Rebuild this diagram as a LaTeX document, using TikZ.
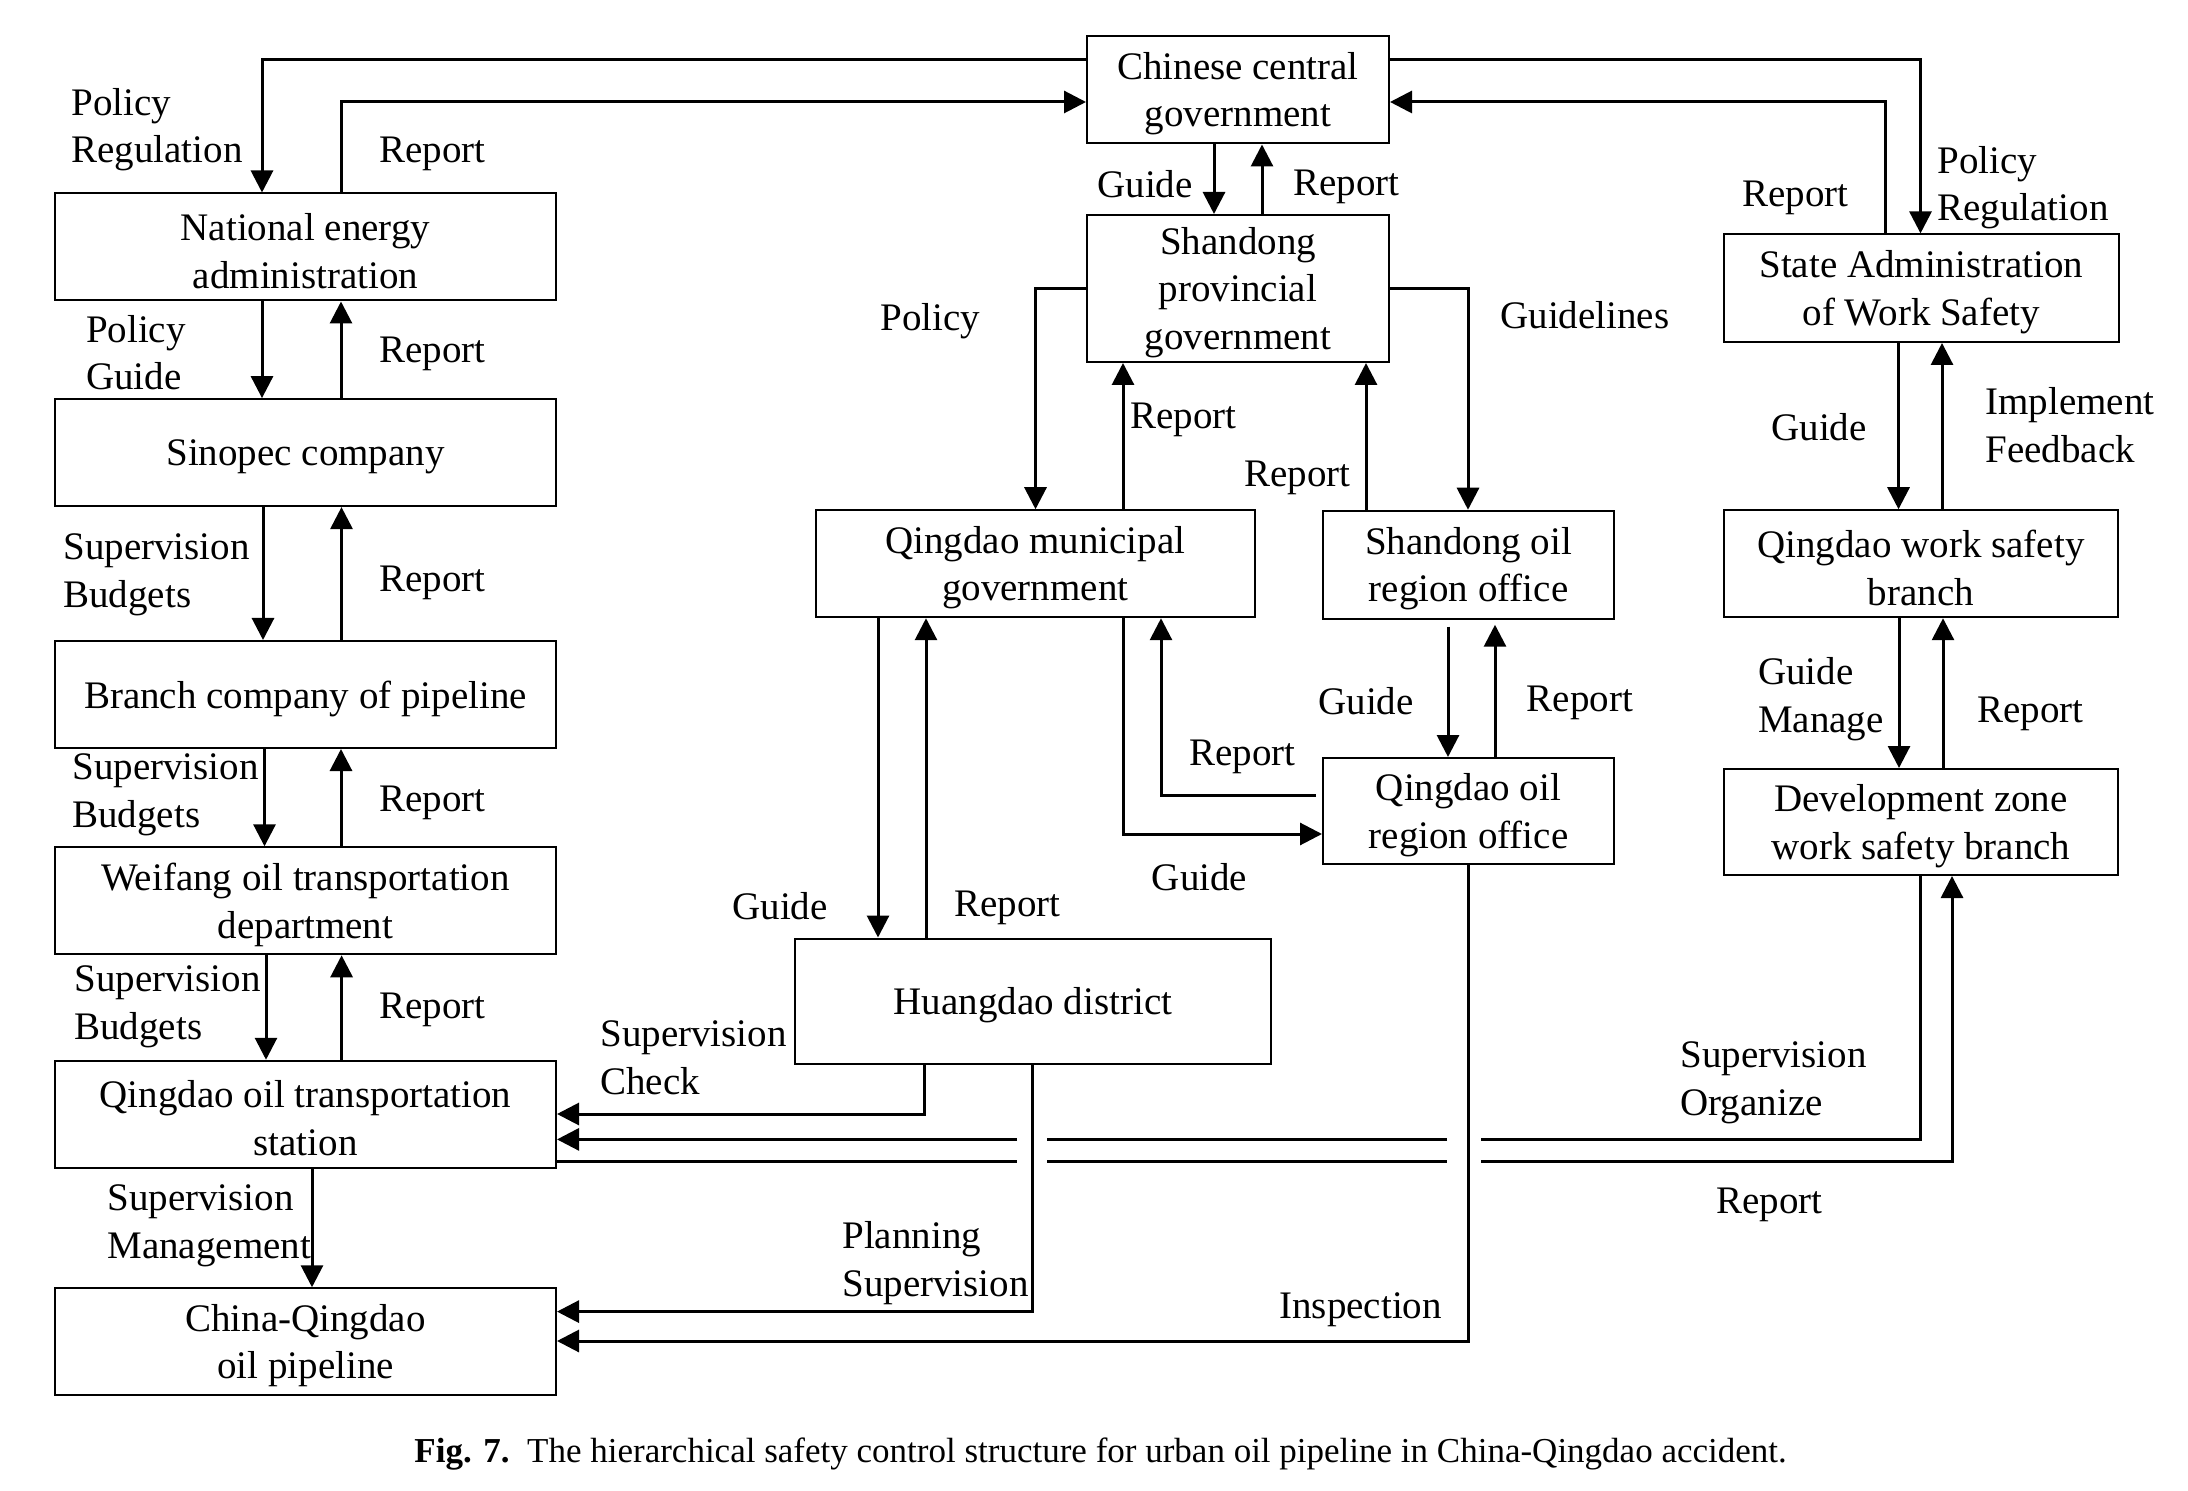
\documentclass[tikz,border=0pt]{standalone}
\usepackage{fontspec}
\setmainfont{Liberation Serif}
\usetikzlibrary{arrows.meta}
\begin{document}
\begin{tikzpicture}[x=0.5pt,y=-0.5pt,
  box/.style={draw, line width=1pt, inner sep=0pt},
  bt/.style={align=center, inner sep=0pt, yshift=-2pt, font=\fontsize{19.5}{23.8}\selectfont},
  lbl/.style={anchor=west, align=left, inner sep=0pt, yshift=-1.5pt, font=\fontsize{19.5}{23.8}\selectfont},
  arr/.style={line width=1.5pt, -{Triangle[length=11pt,width=11pt]}},
  ln/.style={line width=1.5pt}]
\useasboundingbox (0,0) rectangle (2188,1491);
% boxes
\node[box, minimum width=151pt, minimum height=53.75pt, label={[bt]center:{Chinese central\\government}}] (cg) at (1238,89.75) {};
\node[box, minimum width=250.5pt, minimum height=53.5pt, label={[bt]center:{National energy\\administration}}] (nea) at (305.5,247) {};
\node[box, minimum width=250.5pt, minimum height=53.5pt, label={[bt]center:{Sinopec company}}] (sp) at (305.5,452.6) {};
\node[box, minimum width=250.5pt, minimum height=53.5pt, label={[bt]center:{Branch company of pipeline}}] (bc) at (305.5,694.5) {};
\node[box, minimum width=250.5pt, minimum height=53.5pt, label={[bt]center:{Weifang oil transportation\\department}}] (wf) at (305.5,900.8) {};
\node[box, minimum width=250.5pt, minimum height=53.5pt, label={[bt]center:{Qingdao oil transportation\\station}}] (st) at (305.5,1114.25) {};
\node[box, minimum width=250.5pt, minimum height=53.5pt, label={[bt]center:{China-Qingdao\\oil pipeline}}] (pl) at (305.5,1341.75) {};
\node[box, minimum width=151pt, minimum height=73.5pt, label={[bt]center:{Shandong\\provincial\\government}}] (sd) at (1238,288.5) {};
\node[box, minimum width=219.25pt, minimum height=53.5pt, label={[bt]center:{Qingdao municipal\\government}}] (qm) at (1035.25,563.75) {};
\node[box, minimum width=145.5pt, minimum height=54pt, label={[bt]center:{Shandong oil\\region office}}] (so) at (1468.5,564.75) {};
\node[box, minimum width=145.5pt, minimum height=53pt, label={[bt]center:{Qingdao oil\\region office}}] (qo) at (1468.5,811) {};
\node[box, minimum width=238pt, minimum height=62.75pt, label={[bt]center:{Huangdao district}}] (hd) at (1033,1001.25) {};
\node[box, minimum width=197.75pt, minimum height=53.8pt, label={[bt]center:{State Administration\\of Work Safety}}] (saws) at (1921.25,288.2) {};
\node[box, minimum width=197.25pt, minimum height=53.5pt, label={[bt]center:{Qingdao work safety\\branch}}] (qws) at (1921,563.75) {};
\node[box, minimum width=197.25pt, minimum height=53pt, label={[bt]center:{Development zone\\work safety branch}}] (dz) at (1921,822) {};
% left column connectors
\draw[arr] (cg.west |- 0,60) -| (262,0 |- nea.north);
\draw[arr] (341,0 |- nea.north) |- (cg.west |- 0,102);
\draw[arr] (262,0 |- nea.south) -- (262,0 |- sp.north);
\draw[arr] (341,0 |- sp.north) -- (341,0 |- nea.south);
\draw[arr] (263,0 |- sp.south) -- (263,0 |- bc.north);
\draw[arr] (341.5,0 |- bc.north) -- (341.5,0 |- sp.south);
\draw[arr] (264.5,0 |- bc.south) -- (264.5,0 |- wf.north);
\draw[arr] (341,0 |- wf.north) -- (341,0 |- bc.south);
\draw[arr] (266,0 |- wf.south) -- (266,0 |- st.north);
\draw[arr] (341.6,0 |- st.north) -- (341.6,0 |- wf.south);
\draw[arr] (312,0 |- st.south) -- (312,0 |- pl.north);
% centre connectors
\draw[arr] (1214,0 |- cg.south) -- (1214,0 |- sd.north);
\draw[arr] (1262,0 |- sd.north) -- (1262,0 |- cg.south);
\draw[arr] (cg.east |- 0,60) -| (1920.5,0 |- saws.north);
\draw[arr] (1885,0 |- saws.north) |- (cg.east |- 0,102);
\draw[arr] (sd.west) -| (1035.5,0 |- qm.north);
\draw[arr] (1123,0 |- qm.north) -- (1123,0 |- sd.south);
\draw[arr] (sd.east) -| (1468,0 |- so.north);
\draw[arr] (1366,0 |- so.north) -- (1366,0 |- sd.south);
\draw[arr, shorten <=3.5pt] (1448,0 |- so.south) -- (1448,0 |- qo.north);
\draw[arr, shorten >=2.5pt] (1495,0 |- qo.north) -- (1495,0 |- so.south);
\draw[arr] (1123,0 |- qm.south) |- (qo.west |- 0,834);
\draw[arr, shorten <=3pt] (qo.west |- 0,795) -| (1161,0 |- qm.south);
\draw[arr] (878,0 |- qm.south) -- (878,0 |- hd.north);
\draw[arr] (926,0 |- hd.north) -- (926,0 |- qm.south);
\draw[arr] (924,0 |- hd.south) |- (st.east |- 0,1114);
\draw[arr] (1032.6,0 |- hd.south) |- (pl.east |- 0,1311.6);
\draw[arr] (qo.south) |- (pl.east |- 0,1341);
% right connectors
\draw[arr] (1898.5,0 |- saws.south) -- (1898.5,0 |- qws.north);
\draw[arr] (1942,0 |- qws.north) -- (1942,0 |- saws.south);
\draw[arr] (1899,0 |- qws.south) -- (1899,0 |- dz.north);
\draw[arr] (1943,0 |- dz.north) -- (1943,0 |- qws.south);
% crossing lines with gaps
\coordinate (g1) at (1481,1139.4);
\coordinate (g2) at (1447,1139.4);
\coordinate (g3) at (1047,1139.4);
\coordinate (g4) at (1017,1139.4);
\draw[ln] (1920.5,0 |- dz.south) |- (g1);
\draw[ln] (g2) -- (g3);
\draw[arr] (g4) -- (st.east |- g4);
\coordinate (h1) at (1017,1161);
\coordinate (h2) at (1047,1161);
\coordinate (h3) at (1447,1161);
\coordinate (h4) at (1481,1161);
\draw[ln] (st.east |- h1) -- (h1);
\draw[ln] (h2) -- (h3);
\draw[arr] (h4) -| (1952,0 |- dz.south);
% labels
\node[lbl] at (71,126.5) {Policy\\Regulation};
\node[lbl] at (379,151) {Report};
\node[lbl] at (85.6,349.5) {Policy\\Guide};
\node[lbl] at (379,351) {Report};
\node[lbl] at (63,572) {Supervision\\Budgets};
\node[lbl] at (379,580) {Report};
\node[lbl] at (72,792) {Supervision\\Budgets};
\node[lbl] at (379,800) {Report};
\node[lbl] at (74,1003.5) {Supervision\\Budgets};
\node[lbl] at (379,1006.5) {Report};
\node[lbl] at (107,1222.5) {Supervision\\Management};
\node[lbl] at (1097,181) {Guide};
\node[lbl] at (1293,184) {Report};
\node[lbl] at (880,318) {Policy};
\node[lbl] at (1130,417) {Report};
\node[lbl] at (1244,475) {Report};
\node[lbl] at (1500,312) {Guidelines};
\node[lbl] at (1742,195) {Report};
\node[lbl] at (1937,184.5) {Policy\\Regulation};
\node[lbl] at (1771,424) {Guide};
\node[lbl] at (1985,422) {Implement\\Feedback};
\node[lbl] at (1318,698) {Guide};
\node[lbl] at (1526.5,700) {Report};
\node[lbl] at (1757.6,696) {Guide\\Manage};
\node[lbl] at (1977,711) {Report};
\node[lbl] at (1189,754) {Report};
\node[lbl] at (1151.5,874) {Guide};
\node[lbl] at (732,903) {Guide};
\node[lbl] at (954,905) {Report};
\node[lbl] at (600,1054.5) {Supervision\\Check};
\node[lbl] at (842,1260) {Planning\\Supervision};
\node[lbl] at (1279,1307) {Inspection};
\node[lbl] at (1680,1080) {Supervision\\Organize};
\node[lbl] at (1716,1202) {Report};
% caption
\node[anchor=west, inner sep=0pt, font=\fontsize{17.5}{21}\selectfont] (cap) at (414,1454) {\textbf{Fig. 7.}\ \ The hierarchical safety control structure for urban oil pipeline in China-Qingdao accident.};
\end{tikzpicture}
\end{document}
